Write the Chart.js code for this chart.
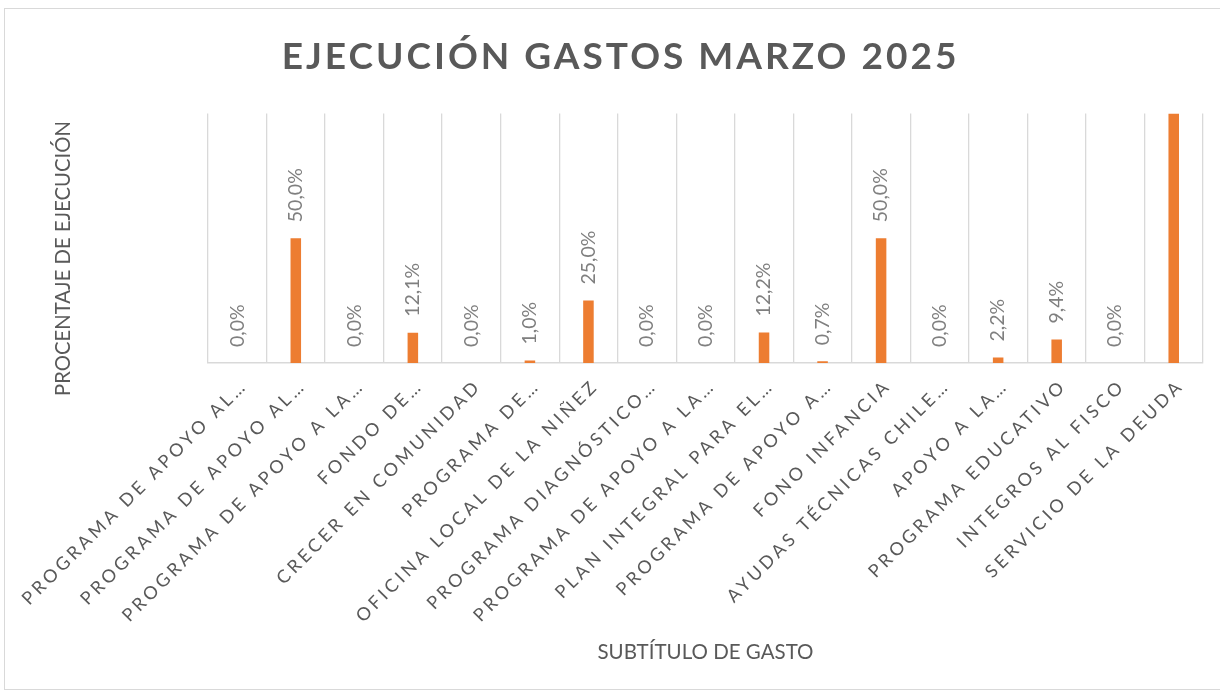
<!DOCTYPE html>
<html lang="es">
<head>
<meta charset="utf-8">
<title>Ejecución gastos marzo 2025</title>
<script src="https://cdn.jsdelivr.net/npm/chart.js@4/dist/chart.umd.min.js"></script>
<style>
  html, body { margin: 0; padding: 0; background: #fff; overflow: hidden; }
  .marco {
    position: absolute; left: 4px; top: 8px;
    width: 1220px; height: 680px;
    border: 1px solid #d9d9d9;
  }
  #grafico { position: absolute; left: 0; top: 0; }
</style>
</head>
<body>
<div class="marco"></div>
<canvas id="grafico" width="1220" height="690"></canvas>
<script>
// ==================
//  DATOS
// ==================
const categorias = [
  "PROGRAMA DE APOYO AL…",
  "PROGRAMA DE APOYO AL…",
  "PROGRAMA DE APOYO A LA…",
  "FONDO DE…",
  "CRECER EN COMUNIDAD",
  "PROGRAMA DE…",
  "OFICINA LOCAL DE LA NIÑEZ",
  "PROGRAMA DIAGNÓSTICO…",
  "PROGRAMA DE APOYO A LA…",
  "PLAN INTEGRAL PARA EL…",
  "PROGRAMA DE APOYO A…",
  "FONO INFANCIA",
  "AYUDAS TÉCNICAS CHILE…",
  "APOYO A LA…",
  "PROGRAMA EDUCATIVO",
  "INTEGROS AL FISCO",
  "SERVICIO DE LA DEUDA"
];

// porcentaje de ejecución (el último sobrepasa el eje y queda recortado)
const ejecucion = [0, 50, 0, 12.1, 0, 1.0, 25, 0, 0, 12.2, 0.7, 50, 0, 2.2, 9.4, 0, 100];

const ejeMin = 0;
const ejeMax = 100;

const NARANJA = "#ed7d31";
const GRIS_TEXTO = "#595959";
const GRIS_ETIQUETA = "#7f7f7f";
const GRIS_LINEA = "#d9d9d9";

// ==================
//  PLUGINS
// ==================
// espaciado entre letras para el título y las etiquetas del eje X
const espaciado = {
  id: "espaciado",
  beforeDraw(chart) {
    const ctx = chart.ctx;
    const x = chart.scales.x;
    if (x && !x._espaciado) {
      const orig = x.drawLabels.bind(x);
      x.drawLabels = (area) => {
        ctx.save();
        ctx.letterSpacing = "3.5px";
        ctx.translate(7, 0);
        orig(area);
        ctx.restore();
      };
      x._espaciado = true;
    }
    const t = chart.titleBlock;
    if (t && !t._espaciado) {
      const origT = t.draw.bind(t);
      t.draw = (area) => {
        ctx.save();
        ctx.letterSpacing = "3px";
        ctx.translate(19, 0);
        origT(area);
        ctx.restore();
      };
      t._espaciado = true;
    }
  }
};

// etiquetas de datos giradas sobre cada barra
const etiquetas = {
  id: "etiquetas",
  afterDatasetsDraw(chart) {
    const ctx = chart.ctx;
    const area = chart.chartArea;
    const meta = chart.getDatasetMeta(0);
    ctx.save();
    ctx.beginPath();
    ctx.rect(area.left, area.top, area.right - area.left, area.bottom - area.top);
    ctx.clip();
    ctx.font = "19.5px Lato";
    ctx.fillStyle = GRIS_ETIQUETA;
    ctx.textAlign = "left";
    ctx.textBaseline = "middle";
    meta.data.forEach((bar, i) => {
      const txt = ejecucion[i].toFixed(1).replace(".", ",") + "%";
      ctx.save();
      ctx.translate(bar.x, bar.y - 16);
      ctx.rotate(-Math.PI / 2);
      ctx.fillText(txt, 0, 0);
      ctx.restore();
    });
    ctx.restore();
  }
};

// ==================
//  GRÁFICO
// ==================
const ctx = document.getElementById("grafico").getContext("2d");
new Chart(ctx, {
  type: "bar",
  data: {
    labels: categorias,
    datasets: [{
      label: "Ejecución",
      data: ejecucion,
      backgroundColor: NARANJA,
      barPercentage: 0.18,
      categoryPercentage: 1
    }]
  },
  plugins: [espaciado, etiquetas],
  options: {
    responsive: false,
    animation: false,
    layout: { padding: { left: 0, right: 17, top: 0, bottom: 0 } },
    plugins: {
      legend: { display: false },
      tooltip: { enabled: false },
      title: {
        display: true,
        text: "EJECUCIÓN GASTOS MARZO 2025",
        color: GRIS_TEXTO,
        font: { family: "Lato", size: 37, weight: "bold", lineHeight: 1.2 },
        padding: { top: 35, bottom: 34 }
      }
    },
    scales: {
      x: {
        grid: { color: GRIS_LINEA, lineWidth: 1.3, drawTicks: false },
        border: { display: true, color: GRIS_LINEA, width: 1.5 },
        ticks: {
          color: GRIS_TEXTO,
          font: { family: "Lato", size: 18 },
          autoSkip: false,
          maxRotation: 45,
          minRotation: 45,
          padding: 12
        },
        title: {
          display: true,
          text: "SUBTÍTULO DE GASTO",
          color: GRIS_TEXTO,
          font: { family: "Lato", size: 20.5, lineHeight: 1.2 },
          padding: { top: 4, bottom: 25 }
        },
        afterFit: (scale) => { scale.height = 327; }
      },
      y: {
        min: ejeMin,
        max: ejeMax,
        grid: { display: false },
        border: { display: false },
        ticks: { display: false },
        title: {
          display: true,
          text: "PROCENTAJE DE EJECUCIÓN\u2002\u2002\u2002\u2002",
          color: GRIS_TEXTO,
          font: { family: "Lato", size: 20.3, lineHeight: 1.2 },
          padding: { top: 51, bottom: 0 }
        },
        afterFit: (scale) => { scale.width = 208; }
      }
    }
  }
});
</script>
</body>
</html>
